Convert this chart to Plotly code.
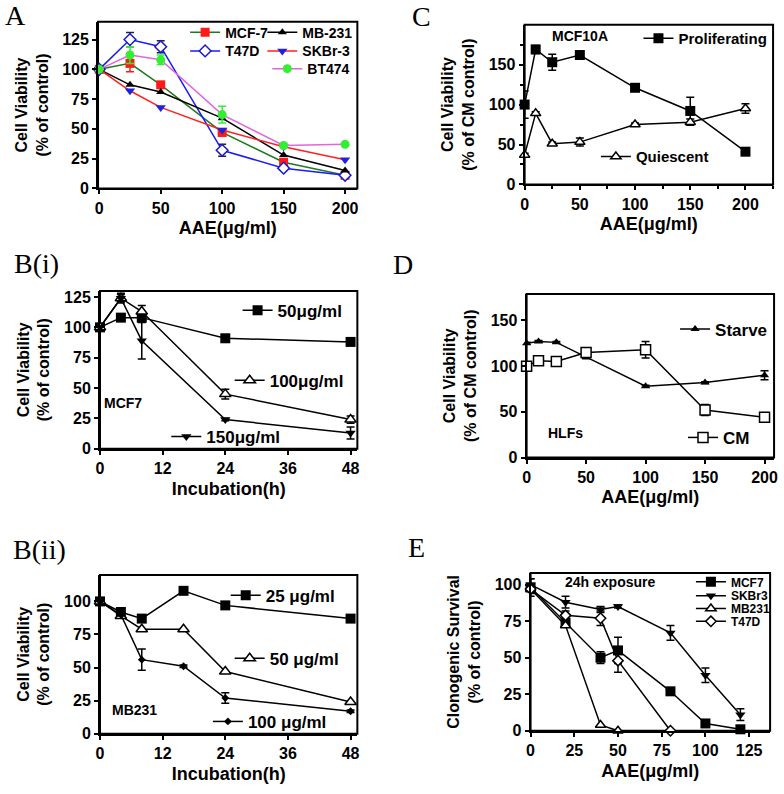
import plotly.graph_objects as go

W, H = 784, 794
SANS = "Liberation Sans, Arial, sans-serif"
SERIF = "Liberation Serif, Times New Roman, serif"

# ---- data ----
# A: dose response, 24h
a_dose = [0, 25, 50, 100, 150, 200]
a_mcf7 = [100, 105, 87, 47, 22, 11]
a_mcf7_err = [0, 7, 0, 3, 2, 1]
a_mb231 = [100, 87, 81, 59, 28, 15]
a_t47d = [100, 125, 119, 32, 17, 11]
a_t47d_err = [0, 6, 5, 5, 1, 1]
a_skbr3 = [100, 82, 68, 49, 35, 24]
a_bt474 = [100, 112, 108, 62, 36, 37]
a_bt474_err = [0, 7, 4, 7, 1, 1]

# B(i): MCF7 time course
bi_time = [0, 4, 8, 24, 48]
bi_50 = [100, 108, 108, 91, 88]
bi_100 = [100, 124, 113, 45, 24]
bi_100_err = [0, 3, 5, 4, 3]
bi_150 = [100, 124, 89, 24, 13]
bi_150_err = [0, 4, 15, 1, 5]

# B(ii): MB231 time course
bii_time = [0, 4, 8, 16, 24, 48]
bii_25 = [100, 92, 87, 108, 97, 87]
bii_50 = [100, 89, 79, 79, 47, 24]
bii_100 = [100, 90, 56, 51, 27, 17]
bii_100_err = [0, 1, 8, 1, 4, 1]

# C: MCF10A
c_dose = [0, 10, 25, 50, 100, 150, 200]
c_prolif = [100, 169, 153, 162, 121, 92, 41]
c_prolif_err = [17, 5, 10, 3, 2, 17, 2]
c_quiesc = [37, 89, 51, 53, 75, 78, 95]
c_quiesc_err = [2, 2, 2, 5, 2, 4, 6]

# D: HLFs
d_dose = [0, 10, 25, 50, 100, 150, 200]
d_starve = [125, 127, 126, 110, 78, 82, 90]
d_starve_err = [1, 1, 1, 2, 1, 1, 5]
d_cm = [100, 106, 105, 115, 118, 52, 44]
d_cm_err = [1, 2, 1, 2, 9, 6, 1]

# E: clonogenic survival
e_mcf7_x = [0, 20, 40, 50, 80, 100, 120]
e_mcf7 = [98, 74, 50, 55, 27, 5, 1]
e_mcf7_err = [6, 3, 4, 9, 1, 1, 1]
e_skbr3_x = [0, 20, 40, 50, 80, 100, 120]
e_skbr3 = [100, 88, 83, 85, 67, 38, 11]
e_skbr3_err = [4, 4, 2, 1, 5, 5, 4]
e_mb231_x = [0, 20, 40, 50]
e_mb231 = [97, 72, 4, 0]
e_t47d_x = [0, 20, 40, 50, 80]
e_t47d = [97, 79, 77, 48, 0]
e_t47d_err = [3, 3, 5, 8, 0]

fig = go.Figure()
layout = dict(width=W, height=H, margin=dict(l=0, r=0, t=0, b=0),
              paper_bgcolor="white", plot_bgcolor="white", showlegend=True)
shapes = []


def px_x(v):
    return v / W


def px_y(v):
    return 1 - v / H


def axis_pair(n, x0, x1, y0, y1, xr, yr, xt, yt, xtitle, ytitle, xminor=None, yminor=None):
    sx = "" if n == 1 else str(n)
    common = dict(showline=True, linewidth=2, linecolor="black",
                  ticks="outside", ticklen=4, tickwidth=2, tickcolor="black",
                  showgrid=False, zeroline=False, fixedrange=True,
                  tickfont=dict(family=SANS, size=16, color="black", weight="bold"))
    xa = dict(common, domain=[px_x(x0), px_x(x1)], range=xr, tickvals=xt,
              anchor="y" + sx,
              title=dict(text=xtitle, standoff=6,
                         font=dict(family=SANS, size=18, color="black", weight="bold")))
    ya = dict(common, domain=[px_y(y1), px_y(y0)], range=yr, tickvals=yt,
              anchor="x" + sx,
              title=dict(text=ytitle, standoff=10,
                         font=dict(family=SANS, size=16, color="black", weight="bold")))
    if xminor:
        xa["minor"] = dict(tickvals=xminor, ticks="outside", ticklen=3, tickwidth=1.5, tickcolor="black")
    if yminor:
        ya["minor"] = dict(tickvals=yminor, ticks="outside", ticklen=3, tickwidth=1.5, tickcolor="black")
    layout["xaxis" + sx] = xa
    layout["yaxis" + sx] = ya
    # frame round the plot area
    shapes.append(dict(type="rect", xref="x%s domain" % sx, yref="y%s domain" % sx,
                       x0=0, x1=1, y0=0, y1=1, line=dict(color="black", width=2),
                       layer="below"))


leg_count = [0]


def add_line(n, x, y, name, lx, ly, fsize, lcolor, msym, mcolor, mline=None,
             msize=9, err=None, ecolor=None):
    sx = "" if n == 1 else str(n)
    leg_count[0] += 1
    lk = "legend" if leg_count[0] == 1 else "legend%d" % leg_count[0]
    marker = dict(symbol=msym, size=msize, color=mcolor)
    if mline:
        marker["line"] = dict(color=mline, width=1.5)
    else:
        marker["line"] = dict(width=0)
    tr = go.Scatter(x=x, y=y, name=name, mode="lines+markers",
                    line=dict(color=lcolor, width=1.5), marker=marker,
                    xaxis="x" + sx, yaxis="y" + sx, legend=lk, cliponaxis=False)
    if err is not None:
        tr.error_y = dict(type="data", array=err, visible=True,
                          color=ecolor or lcolor, thickness=1.5, width=4)
    fig.add_trace(tr)
    layout[lk] = dict(x=px_x(lx - 39), y=px_y(ly), xanchor="left", yanchor="middle",
                      bgcolor="rgba(0,0,0,0)", borderwidth=0, itemwidth=30,
                      font=dict(family=SANS, size=fsize, color="black", weight="bold"))


# ---- panel A ----
axis_pair(1, 95, 357, 20, 189, [-1, 210], [0, 140], [0, 50, 100, 150, 200],
          [0, 25, 50, 75, 100, 125], "AAE(\u03bcg/ml)", "Cell Viability<br>(% of control)")
add_line(1, a_dose, a_mcf7, "MCF-7", 222, 31, 14, "#1f7a1f", "square", "#ff1a1a",
         err=a_mcf7_err, ecolor="#ff1a1a")
add_line(1, a_dose, a_t47d, "T47D", 222, 50, 14, "#1a1aff", "diamond", "white", "#1a1acc",
         err=a_t47d_err, ecolor="#222244")
add_line(1, a_dose, a_mb231, "MB-231", 300, 31, 14, "black", "triangle-up", "black",
         msize=8)
add_line(1, a_dose, a_skbr3, "SKBr-3", 300, 50, 14, "#ff2020", "triangle-down", "#2020dd",
         msize=9)
add_line(1, a_dose, a_bt474, "BT474", 305, 68, 14, "#e066e0", "circle", "#33ee33",
         err=a_bt474_err, ecolor="#33ee33")

# ---- panel C ----
axis_pair(2, 526, 777, 23, 185, [0, 225], [0, 200], [0, 50, 100, 150, 200],
          [0, 50, 100, 150], "AAE(\u03bcg/ml)", "Cell Viability<br>(% of CM control)",
          xminor=[25, 75, 125, 175, 225], yminor=[25, 75, 125, 175])
add_line(2, c_dose, c_prolif, "Proliferating", 680, 37, 15, "black", "square", "black",
         msize=10, err=c_prolif_err)
add_line(2, c_dose, c_quiesc, "Quiescent", 637, 157, 15, "black", "triangle-up", "white", "black",
         err=c_quiesc_err)

# ---- panel B(i) ----
axis_pair(3, 97, 357, 293, 453, [0, 49.3], [0, 130], [0, 12, 24, 36, 48],
          [0, 25, 50, 75, 100, 125], "Incubation(h)", "Cell Viability<br>(% of control)")
add_line(3, bi_time, bi_50, "50\u03bcg/ml", 275, 313, 17, "black", "square", "black", msize=10)
add_line(3, bi_time, bi_100, "100\u03bcg/ml", 267, 384, 17, "black", "triangle-up", "white", "black",
         msize=10, err=bi_100_err)
add_line(3, bi_time, bi_150, "150\u03bcg/ml", 203, 441, 17, "black", "triangle-down", "black",
         err=bi_150_err)

# ---- panel D ----
axis_pair(4, 528, 778, 296, 462, [0, 208], [0, 179], [0, 50, 100, 150, 200],
          [0, 50, 100, 150], "AAE(\u03bcg/ml)", "Cell Viability<br>(% of CM control)")
add_line(4, d_dose, d_starve, "Starve", 717, 332, 17, "black", "triangle-up", "black", msize=8,
         err=d_starve_err)
add_line(4, d_dose, d_cm, "CM", 725, 442, 17, "black", "square", "white", "black", msize=10,
         err=d_cm_err)

# ---- panel B(ii) ----
axis_pair(5, 97, 357, 581, 742, [0, 49.3], [0, 120], [0, 12, 24, 36, 48],
          [0, 25, 50, 75, 100], "Incubation(h)", "Cell Viability<br>(% of control)")
add_line(5, bii_time, bii_25, "25 \u03bcg/ml", 263, 602, 17, "black", "square", "black", msize=10)
add_line(5, bii_time, bii_50, "50 \u03bcg/ml", 267, 666, 17, "black", "triangle-up", "white", "black",
         msize=10)
add_line(5, bii_time, bii_100, "100 \u03bcg/ml", 245, 730, 17, "black", "diamond", "black", msize=6,
         err=bii_100_err)

# ---- panel E ----
axis_pair(6, 532, 774, 579, 739, [0, 137], [0, 108], [0, 25, 50, 75, 100, 125],
          [0, 25, 50, 75, 100], "AAE(\u03bcg/ml)", "Clonogenic Survival<br>(% of control)")
add_line(6, e_mcf7_x, e_mcf7, "MCF7", 733, 588, 12, "black", "square", "black",
         msize=10, err=e_mcf7_err)
add_line(6, e_skbr3_x, e_skbr3, "SKBr3", 733, 602, 12, "black", "triangle-down", "black",
         err=e_skbr3_err)
add_line(6, e_mb231_x, e_mb231, "MB231", 733, 615, 12, "black", "triangle-up", "white", "black")
add_line(6, e_t47d_x, e_t47d, "T47D", 733, 628, 12, "black", "diamond", "white", "black",
         msize=8, err=e_t47d_err)

# ---- text labels ----
ann = []
for txt, x, y in [("A", 12, 14), ("C", 422, 15), ("B(i)", 33, 265), ("D", 403, 266),
                  ("B(ii)", 36, 555), ("E", 417, 553)]:
    ann.append(dict(text=txt, x=px_x(x), y=px_y(y), xref="paper", yref="paper",
                    showarrow=False, xanchor="center", yanchor="middle",
                    font=dict(family=SERIF, size=28, color="black")))
for txt, x, y in [("MCF10A", 582, 34), ("MCF7", 120, 407), ("HLFs", 567, 437),
                  ("MB231", 132, 718), ("24h exposure", 612, 588)]:
    ann.append(dict(text=txt, x=px_x(x), y=px_y(y), xref="paper", yref="paper",
                    showarrow=False, xanchor="center", yanchor="middle",
                    font=dict(family=SANS, size=14, color="black", weight="bold")))
layout["annotations"] = ann
layout["shapes"] = shapes

fig.update_layout(**layout)
# page margin off so the figure sits at the window's corner
fig.write_html("out.html", config={"displayModeBar": False},
               post_script="document.body.style.margin='0px';")
